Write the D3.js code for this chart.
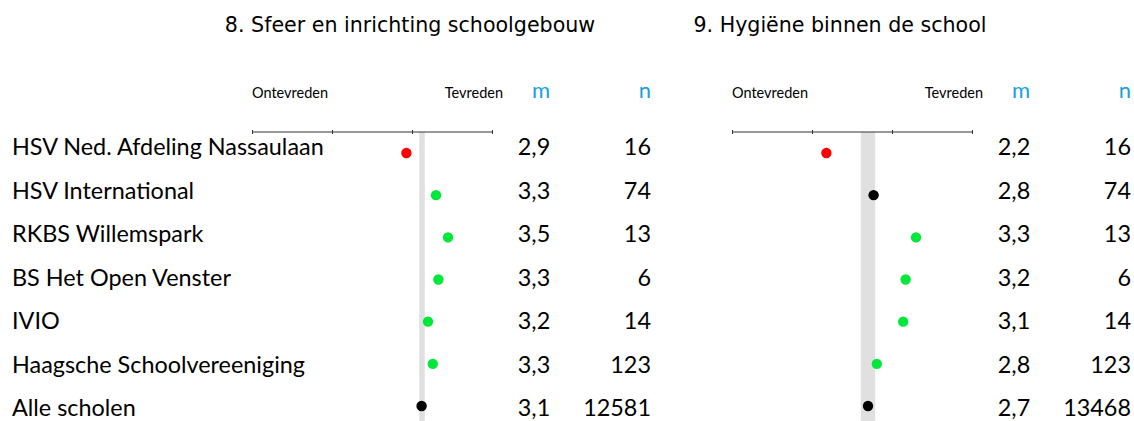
<!DOCTYPE html>
<html>
<head>
<meta charset="utf-8">
<script src="https://cdn.jsdelivr.net/npm/d3@7"></script>
<style>
  html, body { margin: 0; padding: 0; background: #ffffff; }
  svg { display: block; }
</style>
</head>
<body>
<svg id="chart" width="1134" height="421"></svg>
<script>
// ---------- data ----------
const schools = ["HSV Ned. Afdeling Nassaulaan", "HSV International", "RKBS Willemspark",
  "BS Het Open Venster", "IVIO", "Haagsche Schoolvereeniging", "Alle scholen"];

const titles = ["8. Sfeer en inrichting schoolgebouw", "9. Hygiëne binnen de school"];
const scaleEnds = ["Ontevreden", "Tevreden"];
const columnHeads = ["m", "n"];
const scaleTicks = [1, 2, 3, 4];

const sfeerMean   = [2.93, 3.30, 3.45, 3.33, 3.20, 3.26, 3.12];
const sfeerLabel  = ["2,9", "3,3", "3,5", "3,3", "3,2", "3,3", "3,1"];
const sfeerN      = [16, 74, 13, 6, 14, 123, 12581];
const sfeerStatus = ["lower", "higher", "higher", "higher", "higher", "higher", "all"];
const sfeerBand   = [3.09, 3.16];

const hygMean   = [2.18, 2.77, 3.30, 3.17, 3.14, 2.81, 2.70];
const hygLabel  = ["2,2", "2,8", "3,3", "3,2", "3,1", "2,8", "2,7"];
const hygN      = [16, 74, 13, 6, 14, 123, 13468];
const hygStatus = ["lower", "same", "higher", "higher", "higher", "higher", "all"];
const hygBand   = [2.61, 2.79];

// ---------- styling ----------
const statusColor = d3.scaleOrdinal()
  .domain(["lower", "higher", "same", "all"])
  .range(["#ff0000", "#00e83a", "#000000", "#000000"]);
const blue = "#1a9fe3";
const labelFont = "Lato, 'Open Sans', sans-serif";

const svg = d3.select("#chart");

const yDot = d3.scalePoint().domain(schools).range([153, 406]);
const yText = d3.scalePoint().domain(schools).range([155, 416]);

// school labels
svg.append("g").selectAll("text").data(schools).join("text")
  .attr("x", 12)
  .attr("y", d => yText(d))
  .attr("font-family", labelFont)
  .attr("font-size", 23.4)
  .attr("fill", "#000")
  .text(d => d);

const panels = [
  { title: titles[0], mean: sfeerMean, label: sfeerLabel, n: sfeerN, status: sfeerStatus, band: sfeerBand,
    range: [252, 492], titleX: 410, mX: 534, nX: 651 },
  { title: titles[1], mean: hygMean, label: hygLabel, n: hygN, status: hygStatus, band: hygBand,
    range: [732, 972], titleX: 840, mX: 1014, nX: 1131 }
];

const axisY = 132;

panels.forEach(p => {
  const g = svg.append("g");
  const x = d3.scaleLinear().domain([1, 4]).range(p.range);

  // title
  g.append("text")
    .attr("x", p.titleX).attr("y", 32)
    .attr("text-anchor", "middle")
    .attr("font-family", "'DejaVu Sans', sans-serif")
    .attr("font-size", 20.6)
    .attr("fill", "#000")
    .text(p.title);

  // scale end labels
  g.append("text")
    .attr("x", x(1)).attr("y", 98)
    .attr("font-family", labelFont).attr("font-size", 14.5)
    .attr("fill", "#000")
    .text(scaleEnds[0]);
  g.append("text")
    .attr("x", x(4) + 11).attr("y", 98)
    .attr("text-anchor", "end")
    .attr("font-family", labelFont).attr("font-size", 14.5)
    .attr("fill", "#000")
    .text(scaleEnds[1]);

  // column heads
  g.append("text")
    .attr("x", p.mX + 7).attr("y", 98)
    .attr("text-anchor", "middle")
    .attr("font-family", labelFont).attr("font-size", 22)
    .attr("fill", blue)
    .text(columnHeads[0]);
  g.append("text")
    .attr("x", p.nX - 6).attr("y", 98)
    .attr("text-anchor", "middle")
    .attr("font-family", labelFont).attr("font-size", 22)
    .attr("fill", blue)
    .text(columnHeads[1]);

  // average band
  g.append("rect")
    .attr("x", x(p.band[0]))
    .attr("width", x(p.band[1]) - x(p.band[0]))
    .attr("y", axisY)
    .attr("height", 421 - axisY)
    .attr("fill", "#e0e0e0");

  // axis
  const axis = d3.axisBottom(x).tickValues(scaleTicks).tickSize(4).tickSizeOuter(0).tickFormat("");
  const ag = g.append("g").attr("transform", `translate(0,${axisY - 2})`).call(axis);
  ag.select(".domain").remove();
  ag.selectAll(".tick line").attr("stroke", "#333");
  g.append("line")
    .attr("x1", x(1)).attr("x2", x(4))
    .attr("y1", axisY).attr("y2", axisY)
    .attr("stroke", "#333").attr("stroke-width", 1);

  // dots
  g.append("g").selectAll("circle").data(schools).join("circle")
    .attr("cx", (d, i) => x(p.mean[i]))
    .attr("cy", d => yDot(d))
    .attr("r", 5.2)
    .attr("fill", (d, i) => statusColor(p.status[i]));

  // m column
  g.append("g").selectAll("text").data(schools).join("text")
    .attr("x", p.mX)
    .attr("y", d => yText(d))
    .attr("text-anchor", "middle")
    .attr("font-family", labelFont).attr("font-size", 23.4)
    .attr("fill", "#000")
    .text((d, i) => p.label[i]);

  // n column
  g.append("g").selectAll("text").data(schools).join("text")
    .attr("x", p.nX)
    .attr("y", d => yText(d))
    .attr("text-anchor", "end")
    .attr("font-family", labelFont).attr("font-size", 23.4)
    .attr("fill", "#000")
    .text((d, i) => p.n[i]);
});
</script>
</body>
</html>
